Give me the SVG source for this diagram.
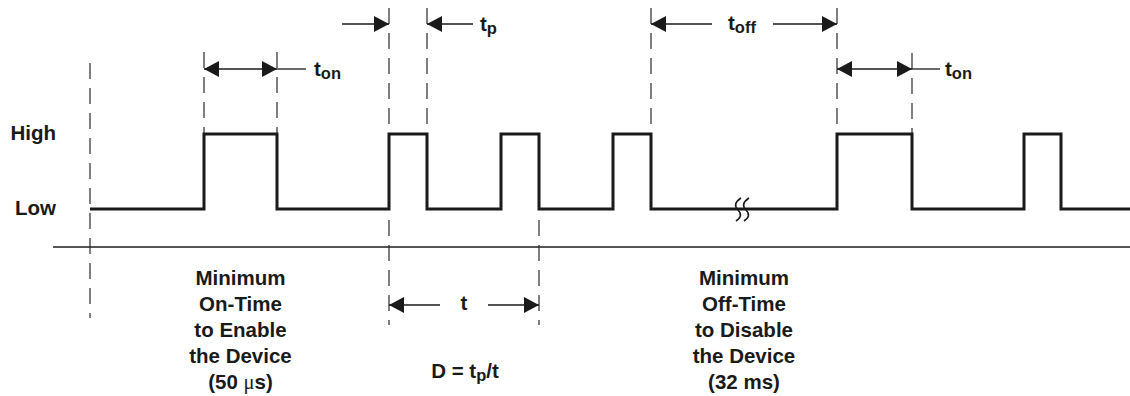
<svg xmlns="http://www.w3.org/2000/svg" width="1130" height="396" viewBox="0 0 1130 396">
<style>
text{font-family:"Liberation Sans",Arial,sans-serif;font-weight:bold;font-size:20.5px;fill:#1a1a1a}
.sub{font-size:16.5px}
.c{text-anchor:middle}
.dash{stroke:#2a2a2a;stroke-width:1.2;stroke-dasharray:16 9;fill:none}
.dim{stroke:#1a1a1a;stroke-width:1.3;fill:none}
.wave{stroke:#1a1a1a;stroke-width:3;fill:none;stroke-linejoin:miter}
</style>
<defs>
<marker id="ah" viewBox="0 0 15 16" refX="15" refY="8" markerWidth="15" markerHeight="16" markerUnits="userSpaceOnUse" orient="auto-start-reverse">
<path d="M0,0 L15,8 L0,16 z" fill="#1a1a1a"/>
</marker>
</defs>
<rect width="1130" height="396" fill="#fff"/>
<g id="axis">
<line x1="53" y1="247" x2="1130" y2="247" stroke="#555" stroke-width="2"/>
</g>
<g id="guides">
<line class="dash" x1="90" y1="63" x2="90" y2="318"/>
<line class="dash" x1="204" y1="52" x2="204" y2="134"/>
<line class="dash" x1="277" y1="52" x2="277" y2="134"/>
<line class="dash" x1="389" y1="8" x2="389" y2="134"/>
<line class="dash" x1="427" y1="8" x2="427" y2="134"/>
<line class="dash" x1="389" y1="220" x2="389" y2="325"/>
<line class="dash" x1="539" y1="220" x2="539" y2="325"/>
<line class="dash" x1="651" y1="8" x2="651" y2="134"/>
<line class="dash" x1="837" y1="8" x2="837" y2="134"/>
<line class="dash" x1="912" y1="53" x2="912" y2="134"/>
</g>
<g id="waveform">
<path class="wave" d="M90 209 H204 V134 H277 V209 H389 V134 H427 V209 H501 V134 H539 V209 H613 V134 H651 V209 H837 V134 H912 V209 H1024 V134 H1061 V209 H1130"/>
<path d="M741 198 C735 202,734 206,738 210 C742 214,741 218,736 221 M749 198 C743 202,742 206,746 210 C750 214,749 218,744 221" stroke="#1a1a1a" stroke-width="1.6" fill="none"/>
</g>
<g id="connectors">
<line class="dim" x1="204" y1="69" x2="277" y2="69" marker-start="url(#ah)" marker-end="url(#ah)"/>
<line class="dim" x1="277" y1="69" x2="306" y2="69"/>
<line class="dim" x1="342" y1="24" x2="389" y2="24" marker-end="url(#ah)"/>
<line class="dim" x1="473" y1="24" x2="427" y2="24" marker-end="url(#ah)"/>
<line class="dim" x1="712" y1="24" x2="651" y2="24" marker-end="url(#ah)"/>
<line class="dim" x1="773" y1="24" x2="837" y2="24" marker-end="url(#ah)"/>
<line class="dim" x1="837" y1="69" x2="912" y2="69" marker-start="url(#ah)" marker-end="url(#ah)"/>
<line class="dim" x1="912" y1="69" x2="940" y2="69"/>
<line class="dim" x1="440" y1="305" x2="389" y2="305" marker-end="url(#ah)"/>
<line class="dim" x1="488" y1="305" x2="539" y2="305" marker-end="url(#ah)"/>
</g>
<g id="labels">
<text x="56" y="140" text-anchor="end">High</text>
<text x="56" y="215" text-anchor="end">Low</text>
<text x="314" y="76">t<tspan class="sub" dy="3">on</tspan></text>
<text x="945" y="76">t<tspan class="sub" dy="3">on</tspan></text>
<text x="480" y="31">t<tspan class="sub" dy="3">p</tspan></text>
<text x="728" y="30">t<tspan class="sub" dy="3">off</tspan></text>
<text x="464" y="310" class="c">t</text>
<text x="465" y="378" class="c">D = t<tspan class="sub" dy="3">p</tspan><tspan dy="-3">/t</tspan></text>
</g>
<g id="note-on">
<text class="c" x="240.5" y="285">Minimum</text>
<text class="c" x="240.5" y="311">On-Time</text>
<text class="c" x="240.5" y="337">to Enable</text>
<text class="c" x="240.5" y="363">the Device</text>
<text class="c" x="240.5" y="389">(50 <tspan font-family="'Liberation Serif',serif" font-weight="normal">μ</tspan>s)</text>
</g>
<g id="note-off">
<text class="c" x="744" y="285">Minimum</text>
<text class="c" x="744" y="311">Off-Time</text>
<text class="c" x="744" y="337">to Disable</text>
<text class="c" x="744" y="363">the Device</text>
<text class="c" x="744" y="389">(32 ms)</text>
</g>
</svg>
